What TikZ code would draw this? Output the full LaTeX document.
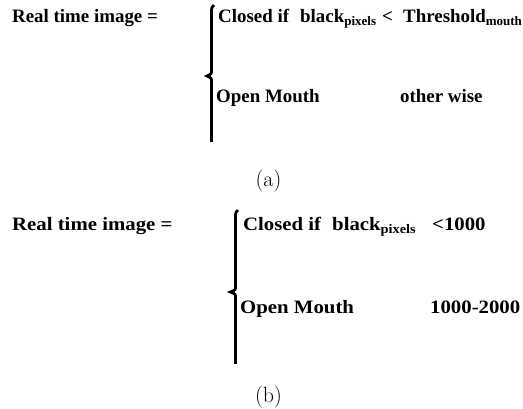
\documentclass[tikz,border=0pt]{standalone}
\usepackage{fontspec}
\newfontfamily\tnr{Liberation Serif}
\newcommand\mysub[1]{\raisebox{-3pt}{\fontsize{13}{13}\selectfont #1}}
\newcommand\widetext[1]{\scalebox{1.1}[1]{#1}}
\begin{document}
\begin{tikzpicture}[x=1pt,y=-1pt,
  lab/.style={anchor=base west, inner sep=0pt, font=\tnr\bfseries\fontsize{18.9}{20}\selectfont},
  captext/.style={inner sep=0pt, font=\fontsize{22}{24}\selectfont},
  bracestyle/.style={line width=2.8pt, line cap=butt, black}]
\useasboundingbox (0,0) rectangle (523,409);
% ---------- (a) ----------
\node[lab] (a-lhs) at (12,22.5) {Real time image =};
\node[lab] (a-c1) at (218,22.5) {Closed if};
\node[lab] (a-c2) at (300,22.5) {black\mysub{pixels}};
\node[lab] (a-c3) at (382,22.5) {<};
\node[lab] (a-c4) at (403,22.5) {Threshold\mysub{mouth}};
\node[lab] (a-o1) at (216,103) {Open Mouth};
\node[lab] (a-o2) at (400,103) {other wise};
\draw[bracestyle] (214,5) .. controls (212,6) and (211.5,8) .. (211.5,12) -- (211.5,70)
   .. controls (211.5,74) .. (207,76) .. controls (211.5,78) .. (211.5,82) -- (211.5,142);
\node[captext] (a-cap) at (268.5,181) {(a)};
% ---------- (b) ----------
\node[lab] (b-lhs) at (12,231) {\widetext{Real time image =}};
\node[lab] (b-c1) at (243,231) {\widetext{Closed if}};
\node[lab] (b-c2) at (332,231) {\widetext{black\mysub{pixels}}};
\node[lab] (b-c3) at (432,231) {\widetext{<1000}};
\node[lab] (b-o1) at (240,313) {\widetext{Open Mouth}};
\node[lab] (b-o2) at (430,313) {\widetext{1000-2000}};
\draw[bracestyle] (238,210) .. controls (236,211) and (235.5,213) .. (235.5,217) -- (235.5,286)
   .. controls (235.5,290) .. (230.5,292) .. controls (235.5,294) .. (235.5,298) -- (235.5,364);
\node[captext] (b-cap) at (268.5,397) {(b)};
\end{tikzpicture}
\end{document}
